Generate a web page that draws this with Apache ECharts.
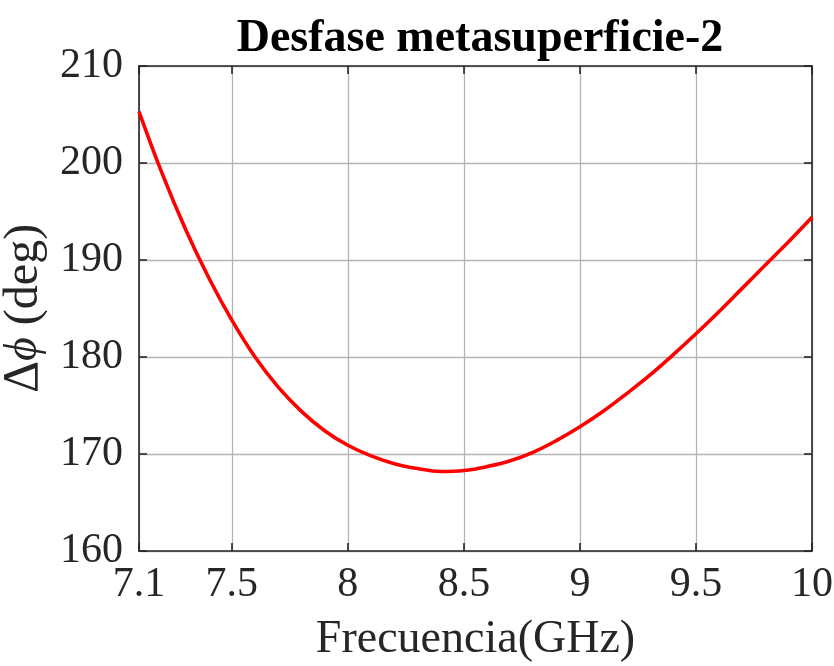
<!DOCTYPE html>
<html>
<head>
<meta charset="utf-8">
<script src="https://cdn.jsdelivr.net/npm/echarts@6/dist/echarts.min.js"></script>
<style>
html,body{margin:0;padding:0;background:#fff;}
#chart{width:834px;height:666px;}
</style>
</head>
<body>
<div id="chart"></div>
<script>
const titleText = 'Desfase metasuperficie-2';
const xName = 'Frecuencia(GHz)';
const yName = '{d|Δ}{p|ϕ} (deg)';
const freq = [7.1,7.2,7.3,7.4,7.5,7.6,7.7,7.8,7.9,8.0,8.1,8.2,8.3,8.4,8.5,8.6,8.7,8.8,8.9,9.0,9.1,9.2,9.3,9.4,9.5,9.6,9.7,9.8,9.9,10.0];
const phase = [205.3,198.9,193.2,188.2,183.8,180.0,176.9,174.4,172.4,170.9,169.8,169.0,168.5,168.2,168.3,168.7,169.3,170.2,171.4,172.8,174.4,176.2,178.1,180.2,182.4,184.7,187.1,189.5,191.9,194.4];
const xTicks = [7.1,7.5,8,8.5,9,9.5,10];
const yTicks = [160,170,180,190,200,210];

const FONT = "'Liberation Serif','Times New Roman',serif";
const AX = '#262626';
const GRID = '#b4b4b4';

const chart = echarts.init(document.getElementById('chart'), null, {renderer:'canvas'});
const data = freq.map((f,i)=>[f, phase[i]]);

function xAxisBase(pos, main){
  return {
    type:'value', position:pos, min:7.1, max:10,
    axisLine:{show:true, onZero:false, lineStyle:{color:AX, width:1.6}},
    axisTick:{show:true, inside:true, length:8, customValues:xTicks, lineStyle:{color:AX, width:1.6}},
    axisLabel:{show:main, customValues:xTicks, color:AX, fontFamily:FONT, fontSize:42, margin:13,
      formatter:v=>String(v)},
    splitLine:{show:main, lineStyle:{color:GRID, width:1.3}},
    name: main ? xName : '', nameLocation:'middle', nameGap:66,
    nameTextStyle:{color:AX, fontFamily:FONT, fontSize:46}
  };
}
function yAxisBase(pos, main){
  return {
    type:'value', position:pos, min:160, max:210,
    axisLine:{show:true, onZero:false, lineStyle:{color:AX, width:1.6}},
    axisTick:{show:true, inside:true, length:8, customValues:yTicks, lineStyle:{color:AX, width:1.6}},
    axisLabel:{show:main, customValues:yTicks, color:AX, fontFamily:FONT, fontSize:42, margin:16},
    splitLine:{show:main, lineStyle:{color:GRID, width:1.3}},
    name: main ? yName : '', nameLocation:'middle', nameGap:81, nameRotate:90,
    nameTextStyle:{color:AX, fontFamily:FONT, fontSize:48,
      rich:{
        d:{color:AX, fontFamily:FONT, fontSize:50},
        p:{color:AX, fontFamily:FONT, fontSize:46, fontStyle:'italic'}
      }}
  };
}

chart.setOption({
  animation:false,
  backgroundColor:'#fff',
  title:{text:titleText, left:475, top:11, textAlign:'center',
    textStyle:{color:'#000', fontFamily:FONT, fontWeight:'bold', fontSize:46}},
  grid:{left:139, right:22, top:66, bottom:115, containLabel:false, outerBoundsMode:'none'},
  xAxis:[xAxisBase('bottom', true), xAxisBase('top', false)],
  yAxis:[yAxisBase('left', true), yAxisBase('right', false)],
  series:[{
    type:'line', xAxisIndex:0, yAxisIndex:0, data:data, smooth:0.4,
    showSymbol:false, symbol:'none',
    lineStyle:{color:'#ff0000', width:3.6}
  }]
});
</script>
</body>
</html>
